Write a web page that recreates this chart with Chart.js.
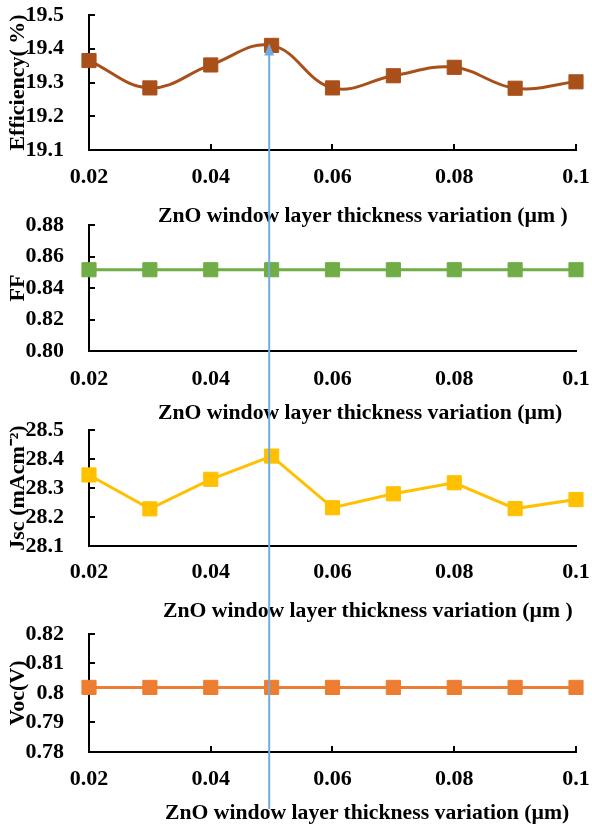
<!DOCTYPE html>
<html><head><meta charset="utf-8">
<script src="https://cdn.jsdelivr.net/npm/chart.js@4/dist/chart.umd.min.js"></script>
<style>
html,body{margin:0;padding:0;background:#fff;}
body{width:592px;height:828px;position:relative;overflow:hidden;}
.panel{position:absolute;left:0;width:592px;}
.xt{position:absolute;font:bold 21.7px "Liberation Serif","Times New Roman",serif;color:#000;white-space:nowrap;line-height:26px;}
#overlay{position:absolute;left:0;top:0;pointer-events:none;}
</style></head><body>
<div class="panel" id="p1" style="top:0;height:200px"><canvas id="c1"></canvas></div>
<div class="panel" id="p2" style="top:210px;height:200px"><canvas id="c2"></canvas></div>
<div class="panel" id="p3" style="top:415px;height:190px"><canvas id="c3"></canvas></div>
<div class="panel" id="p4" style="top:619px;height:190px"><canvas id="c4"></canvas></div>
<div class="xt" style="left:158px;top:202px">ZnO window layer thickness variation (µm )</div>
<div class="xt" style="left:158px;top:399px">ZnO window layer thickness variation (µm)</div>
<div class="xt" style="left:163px;top:597px">ZnO window layer thickness variation (µm )</div>
<div class="xt" style="left:165px;top:799px">ZnO window layer thickness variation (µm)</div>
<canvas id="overlay" width="592" height="828"></canvas>
<script>
// ---- data ----
const thickness = [0.02, 0.03, 0.04, 0.05, 0.06, 0.07, 0.08, 0.09, 0.10];
const efficiency = [19.365, 19.284, 19.352, 19.41, 19.284, 19.32, 19.345, 19.283, 19.302];
const fillFactor = [0.8516, 0.8516, 0.8516, 0.8516, 0.8516, 0.8516, 0.8516, 0.8516, 0.8516];
const jsc = [28.345, 28.228, 28.33, 28.41, 28.232, 28.28, 28.318, 28.229, 28.26];
const voc = [0.8019, 0.8019, 0.8019, 0.8019, 0.8019, 0.8019, 0.8019, 0.8019, 0.8019];

const xTicks = [0.02, 0.04, 0.06, 0.08, 0.10];
const xTickLabels = ['0.02', '0.04', '0.06', '0.08', '0.1'];
const effTicks = [19.1, 19.2, 19.3, 19.4, 19.5];
const effTickLabels = ['19.1', '19.2', '19.3', '19.4', '19.5'];
const ffTicks = [0.80, 0.82, 0.84, 0.86, 0.88];
const ffTickLabels = ['0.80', '0.82', '0.84', '0.86', '0.88'];
const jscTicks = [28.1, 28.2, 28.3, 28.4, 28.5];
const jscTickLabels = ['28.1', '28.2', '28.3', '28.4', '28.5'];
const vocTicks = [0.78, 0.79, 0.80, 0.81, 0.82];
const vocTickLabels = ['0.78', '0.79', '0.8', '0.81', '0.82'];
const optimumThickness = 0.0496; // marker line position

Chart.defaults.font.family = '"Liberation Serif","Times New Roman",serif';
Chart.defaults.font.weight = 'bold';
Chart.defaults.color = '#000';

const innerTicks = {
  id: 'innerTicks',
  beforeDatasetsDraw(chart, args, opts) {
    const {ctx, chartArea: a, scales: {x, y}} = chart;
    ctx.save();
    ctx.strokeStyle = '#000';
    ctx.lineWidth = 2;
    ctx.beginPath();
    y.ticks.forEach(t => {
      const py = Math.round(y.getPixelForValue(t.value));
      ctx.moveTo(a.left, py); ctx.lineTo(a.left + 6, py);
    });
    if (opts.x) {
      x.ticks.forEach((t, i) => {
        if (i === 0) return;
        const px = Math.round(x.getPixelForValue(t.value));
        ctx.moveTo(px, a.bottom); ctx.lineTo(px, a.bottom - 6);
      });
    }
    ctx.stroke();
    ctx.restore();
  }
};

function makeChart(id, values, color, yT, yL, yTitle, o) {
  return new Chart(document.getElementById(id), {
    type: 'line',
    data: {
      datasets: [{
        data: thickness.map((t, i) => ({x: t, y: values[i]})),
        borderColor: color,
        backgroundColor: color,
        borderWidth: 3,
        tension: o.tension,
        pointStyle: 'rect',
        pointRadius: 10,
        pointBorderWidth: 1,
        pointBackgroundColor: color,
        pointBorderColor: color,
        clip: false
      }]
    },
    options: {
      responsive: true,
      maintainAspectRatio: false,
      animation: false,
      events: [],
      layout: {padding: {left: 0, right: 16, top: 15, bottom: 0}},
      plugins: {legend: {display: false}, tooltip: {enabled: false}, innerTicks: {x: o.xTicks}},
      scales: {
        x: {
          type: 'linear', min: xTicks[0], max: xTicks[xTicks.length - 1],
          afterBuildTicks: s => { s.ticks = xTicks.map(v => ({value: v})); },
          afterFit: s => { s.height = o.xHeight; s.paddingLeft = 0; s.paddingRight = 0; },
          grid: {display: false},
          border: {display: true, color: '#000', width: 2},
          ticks: {font: {size: 22}, padding: o.xPad, maxRotation: 0, autoSkip: false,
                  callback: (v, i) => xTickLabels[i]}
        },
        y: {
          min: yT[0], max: yT[yT.length - 1],
          afterBuildTicks: s => { s.ticks = yT.map(v => ({value: v})); },
          afterFit: s => { s.width = 89; s.paddingTop = 0; s.paddingBottom = 0; },
          grid: {display: false},
          border: {display: true, color: '#000', width: 2},
          ticks: {font: {size: 22}, padding: 17, autoSkip: false,
                  callback: (v, i) => yL[i]},
          title: {display: true, text: yTitle, font: {size: 22}, padding: {top: 5, bottom: 0}}
        }
      }
    },
    plugins: [innerTicks]
  });
}

const c1 = makeChart('c1', efficiency, '#A9501A', effTicks, effTickLabels, 'Efficiency( %)',
  {tension: 0.4, xHeight: 50, xPad: 6, xTicks: true});
const c2 = makeChart('c2', fillFactor, '#70AD47', ffTicks, ffTickLabels, 'FF',
  {tension: 0, xHeight: 59, xPad: 7, xTicks: false});
const c3 = makeChart('c3', jsc, '#FFC000', jscTicks, jscTickLabels, 'Jsc (mAcm⁻²)',
  {tension: 0, xHeight: 59, xPad: 5, xTicks: false});
const c4 = makeChart('c4', voc, '#ED7D31', vocTicks, vocTickLabels, 'Voc(V)',
  {tension: 0, xHeight: 57, xPad: 6, xTicks: true});

// annotation line with arrow pointing to the optimum
(function () {
  const ov = document.getElementById('overlay');
  const ctx = ov.getContext('2d');
  const p1Top = document.getElementById('p1').offsetTop;
  const p4Top = document.getElementById('p4').offsetTop;
  const px = c1.scales.x.getPixelForValue(optimumThickness);
  const tip = p1Top + c1.scales.y.getPixelForValue(efficiency[thickness.indexOf(0.05)]) - 2;
  const bottom = p4Top + c4.scales.x.bottom;
  ctx.strokeStyle = '#74ABDD';
  ctx.fillStyle = '#74ABDD';
  ctx.lineWidth = 2;
  ctx.beginPath();
  ctx.moveTo(px, tip + 8);
  ctx.lineTo(px, bottom);
  ctx.stroke();
  ctx.beginPath();
  ctx.moveTo(px, tip);
  ctx.lineTo(px - 5, tip + 12);
  ctx.lineTo(px + 5, tip + 12);
  ctx.closePath();
  ctx.fill();
})();
</script>
</body></html>
